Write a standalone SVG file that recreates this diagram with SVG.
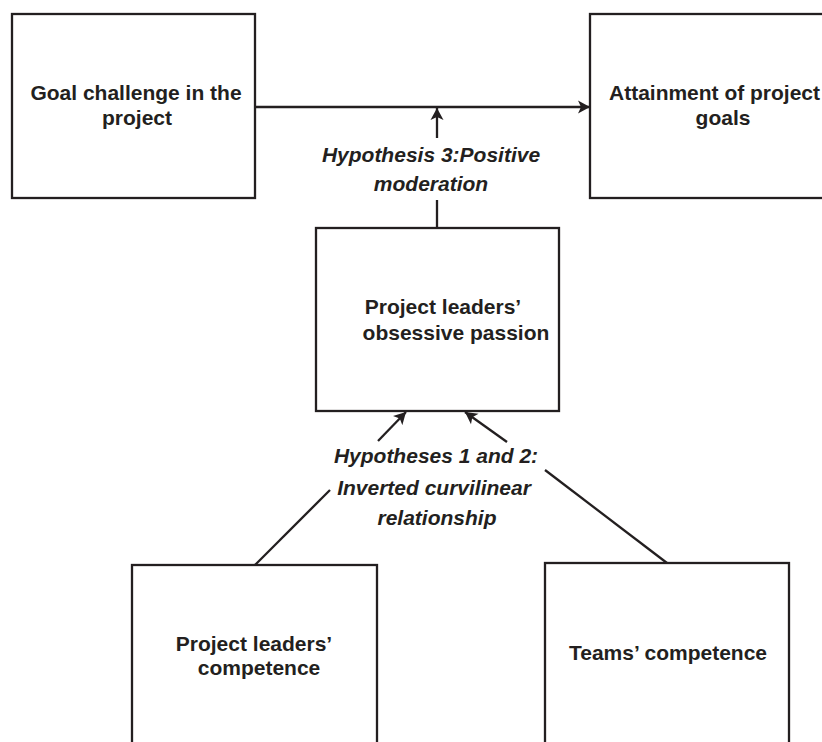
<svg xmlns="http://www.w3.org/2000/svg" width="822" height="742" viewBox="0 0 822 742">
<defs>
<style>
.box{fill:#fff;stroke:#231f20;stroke-width:2.3}
.lbl{font-family:"Liberation Sans",Arial,sans-serif;font-size:21px;font-weight:bold;fill:#231f20;text-anchor:middle}
.hyp{font-family:"Liberation Sans",Arial,sans-serif;font-size:21px;font-weight:bold;font-style:italic;fill:#231f20;text-anchor:middle}
.ln{stroke:#231f20;stroke-width:2.3;fill:none}
</style>
<marker id="ah" markerUnits="userSpaceOnUse" markerWidth="14" markerHeight="14" viewBox="0 0 14 14" refX="12" refY="7" orient="auto">
<path d="M0,0.5 L12,7 L0,13.5 L3,7 Z" fill="#231f20"/>
</marker>
</defs>
<rect width="822" height="742" fill="#fff"/>
<g id="connectors">
<line class="ln" x1="255" y1="107" x2="590" y2="107" marker-end="url(#ah)"/>
<line class="ln" x1="437" y1="138" x2="437" y2="108" marker-end="url(#ah)"/>
<line class="ln" x1="437" y1="200" x2="437" y2="228"/>
<line class="ln" x1="255" y1="565" x2="330" y2="490"/>
<line class="ln" x1="378" y1="441" x2="406" y2="412" marker-end="url(#ah)"/>
<line class="ln" x1="667" y1="563" x2="545" y2="470"/>
<line class="ln" x1="507" y1="442" x2="465" y2="412" marker-end="url(#ah)"/>
</g>
<g id="label-h3">
<text class="hyp" x="431" y="162">Hypothesis 3:Positive</text>
<text class="hyp" x="431" y="191">moderation</text>
</g>
<g id="label-h12">
<text class="hyp" x="436" y="463">Hypotheses 1 and 2:</text>
<text class="hyp" x="434" y="495">Inverted curvilinear</text>
<text class="hyp" x="437" y="525">relationship</text>
</g>
<g id="node-goal-challenge">
<rect class="box" x="12" y="14" width="243" height="184"/>
<text class="lbl" x="136" y="100">Goal challenge in the</text>
<text class="lbl" x="137" y="125">project</text>
</g>
<g id="node-attainment">
<rect class="box" x="590" y="14" width="270" height="184"/>
<text class="lbl" x="609" y="100" style="text-anchor:start" textLength="211" lengthAdjust="spacingAndGlyphs">Attainment of project</text>
<text class="lbl" x="723" y="125">goals</text>
</g>
<g id="node-passion">
<rect class="box" x="316" y="228" width="243" height="183"/>
<text class="lbl" x="443" y="314">Project leaders’</text>
<text class="lbl" x="456" y="340">obsessive passion</text>
</g>
<g id="node-leader-competence">
<rect class="box" x="132" y="565" width="245" height="200"/>
<text class="lbl" x="254" y="651">Project leaders’</text>
<text class="lbl" x="259" y="675">competence</text>
</g>
<g id="node-team-competence">
<rect class="box" x="545" y="563" width="244" height="200"/>
<text class="lbl" x="668" y="660">Teams’ competence</text>
</g>
</svg>
